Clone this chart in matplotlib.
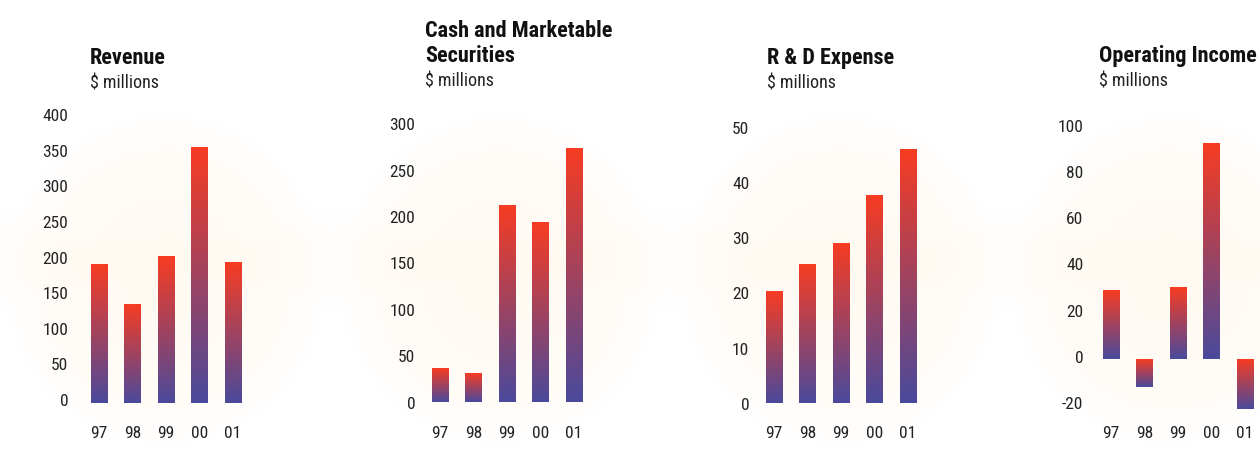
import matplotlib.pyplot as plt
import numpy as np
from matplotlib.colors import LinearSegmentedColormap
from matplotlib.transforms import ScaledTranslation

plt.rcParams['font.family'] = ['Roboto Condensed', 'DejaVu Sans Condensed',
                               'Liberation Sans Narrow', 'Liberation Sans', 'DejaVu Sans']
plt.rcParams['axes.unicode_minus'] = False

years = ["97", "98", "99", "00", "01"]
revenue = [194, 138, 206, 359, 197]
cash = [36, 31, 212, 193, 273]
rnd = [20.2, 25.0, 28.8, 37.6, 45.9]
op_income = [29.6, -11.8, 30.9, 93.3, -21.4]

titles = ["Revenue", "Cash and Marketable\nSecurities", "R & D Expense", "Operating Income"]
subtitle = "$ millions"
yticks = [list(range(0, 401, 50)), list(range(0, 301, 50)),
          list(range(0, 51, 10)), list(range(-20, 101, 20))]
series = [revenue, cash, rnd, op_income]

W, H = 1260, 464
fig = plt.figure(figsize=(W / 100, H / 100), dpi=100)

# faint halftone-like glow behind each panel
bg = fig.add_axes([0, 0, 1, 1], zorder=-5)
bg.set_axis_off()
yy, xx = np.mgrid[0:H, 0:W]
alpha = np.zeros((H, W))
for cx in [165, 500, 840, 1170]:
    d = ((xx - cx) / 160.0) ** 2 + ((yy - 280) / 165.0) ** 2
    alpha = np.maximum(alpha, np.clip(1 - d, 0, 1) ** 0.8 * 0.28)
    band = np.exp(-((yy - 262) / 40.0) ** 4) * np.exp(-((xx - cx) / 150.0) ** 6)
    alpha = np.maximum(alpha, band * 0.28)
img = np.zeros((H, W, 4))
img[..., 0] = 1.0
img[..., 1] = 0.93
img[..., 2] = 0.82
img[..., 3] = alpha
bg.imshow(img, extent=(0, W, H, 0), aspect="auto")
bg.set_xlim(0, W)
bg.set_ylim(H, 0)

cmap = LinearSegmentedColormap.from_list("rb", ["#4a4a9c", "#f73c22"])
grad = np.linspace(0, 1, 256).reshape(-1, 1)

# left px, bottom px, top px, ylim, ytick pad, xtick pad, ylabel shift px
layout = [
    (79, 404, 119, (0, 400), 7.6, 15.5, 4),
    (420, 402.7, 124.3, (0, 300), 3.4, 16.5, 0),
    (754, 404, 127.5, (0, 50), 3.4, 15.5, 0),
    (1091, 418.3, 129.2, (-25, 100), 5.6, 5.2, 3.5),
]
title_pos = [(90, 64), (425, 62), (767, 64), (1099, 62)]
sub_pos = [(90, 89), (425, 87), (767, 89), (1099, 87)]

x = np.arange(len(years))
bw = 0.5
for i, (vals, lay) in enumerate(zip(series, layout)):
    left, bot, top, ylim, ypad, xpad, shift = lay
    ax = fig.add_axes([left / W, 1 - bot / H, 174 / W, (bot - top) / H])
    ax.set_facecolor("none")
    for xi, v in zip(x, vals):
        ax.imshow(grad, cmap=cmap, origin="lower", aspect="auto",
                  extent=(xi - bw / 2, xi + bw / 2, min(0, v), max(0, v)))
    ax.set_xlim(-0.6, 4.6)
    ax.set_ylim(*ylim)
    ax.set_xticks(x)
    ax.set_xticklabels(years)
    ax.set_yticks(yticks[i])
    ax.tick_params(axis="x", length=0, pad=xpad, labelsize=12.5, colors="#222222")
    ax.tick_params(axis="y", length=0, pad=ypad, labelsize=12.5, colors="#222222")
    for s in ax.spines.values():
        s.set_visible(False)
    off = ScaledTranslation(0, shift / 100, fig.dpi_scale_trans)
    for lab in ax.get_yticklabels():
        lab.set_transform(lab.get_transform() + off)

    tx, ty = title_pos[i]
    fig.text(tx / W, 1 - ty / H, titles[i], fontsize=16, fontweight="bold",
             va="baseline", ha="left", color="#111111", linespacing=1.2)
    sx, sy = sub_pos[i]
    fig.text(sx / W, 1 - sy / H, subtitle, fontsize=13, va="baseline",
             ha="left", color="#222222")

fig.savefig("out.png", dpi=100)
